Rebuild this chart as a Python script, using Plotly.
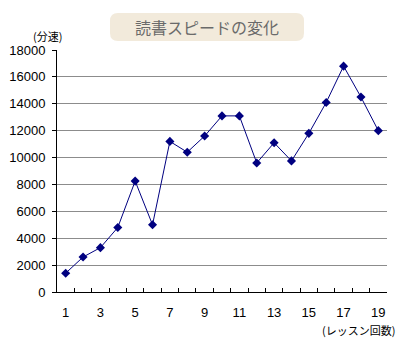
import plotly.graph_objects as go

# Reading speed by lesson
lessons = list(range(1, 20))
speed = [1400, 2600, 3300, 4800, 8250, 5000, 11200, 10400, 11600, 13100,
         13100, 9600, 11100, 9750, 11800, 14100, 16800, 14500, 12000]
x_labels = [str(n) for n in range(1, 20, 2)]
y_ticks = list(range(0, 18001, 2000))

title_text = "読書スピードの変化"
y_unit = "(分速)"
x_unit = "(レッスン回数)"

jp_font = "Noto Sans CJK JP"
num_font = "Liberation Sans, Arial"

fig = go.Figure()
fig.add_trace(go.Scatter(
    x=lessons, y=speed, mode="lines+markers",
    line=dict(color="#000080", width=1),
    marker=dict(symbol="diamond", size=7, color="#000080"),
    showlegend=False,
))
# invisible trace so the label axis is drawn
fig.add_trace(go.Scatter(x=lessons, y=speed, xaxis="x2", mode="none",
                         showlegend=False, hoverinfo="skip"))

boundaries = [i + 0.5 for i in range(0, 20)]

fig.update_layout(
    width=400, height=350,
    margin=dict(l=57, r=13, t=50, b=58),
    paper_bgcolor="white", plot_bgcolor="white",
    xaxis=dict(
        range=[0.5, 19.5], tickvals=boundaries, ticktext=[""] * len(boundaries),
        ticks="inside", ticklen=4, tickcolor="black",
        showline=True, linecolor="black", linewidth=1,
        showgrid=False, zeroline=False, automargin=False,
    ),
    xaxis2=dict(
        overlaying="x", matches="x", side="bottom",
        tickvals=list(range(1, 20, 2)), ticktext=x_labels,
        ticks="", showline=False, showgrid=False, zeroline=False,
        tickfont=dict(family=num_font, size=13, color="black"),
        ticklabelstandoff=11, automargin=False,
    ),
    yaxis=dict(
        range=[0, 18000], tickvals=y_ticks,
        ticktext=[str(v) for v in y_ticks],
        ticks="outside", ticklen=4, tickcolor="black",
        showline=True, linecolor="black", linewidth=1,
        showgrid=True, gridcolor="#8c8c8c", gridwidth=1, zeroline=False,
        tickfont=dict(family=num_font, size=13, color="black"),
        ticklabelstandoff=4, automargin=False,
    ),
)

plot_w = 400 - 57 - 13
plot_h = 350 - 50 - 58

def px_to_paper(px, py):
    return (px - 57) / plot_w, (350 - 58 - py) / plot_h

# Rounded title box
bx0, by0 = px_to_paper(110, 41)
bx1, by1 = px_to_paper(304, 13)
rx = 8 / plot_w
ry = 8 / plot_h
path = (f"M {bx0+rx},{by0} L {bx1-rx},{by0} Q {bx1},{by0} {bx1},{by0+ry} "
        f"L {bx1},{by1-ry} Q {bx1},{by1} {bx1-rx},{by1} L {bx0+rx},{by1} "
        f"Q {bx0},{by1} {bx0},{by1-ry} L {bx0},{by0+ry} Q {bx0},{by0} {bx0+rx},{by0} Z")
fig.layout.shapes = [dict(type="path", xref="paper", yref="paper", path=path,
                          fillcolor="#f2eadb", line=dict(width=0), layer="below")]

tx, ty = px_to_paper(207, 27)
fig.add_annotation(x=tx, y=ty, xref="paper", yref="paper", text=title_text,
                   showarrow=False, font=dict(family=jp_font, size=16, color="#6a6a6a"),
                   xanchor="center", yanchor="middle")

ux, uy = px_to_paper(47, 36)
fig.add_annotation(x=ux, y=uy, xref="paper", yref="paper", text=y_unit,
                   showarrow=False, font=dict(family=jp_font, size=11, color="black"),
                   xanchor="center", yanchor="middle")

lx, ly = px_to_paper(358, 330)
fig.add_annotation(x=lx, y=ly, xref="paper", yref="paper", text=x_unit,
                   showarrow=False, font=dict(family=jp_font, size=11, color="black"),
                   xanchor="center", yanchor="middle")

fig.write_html("out.html")
